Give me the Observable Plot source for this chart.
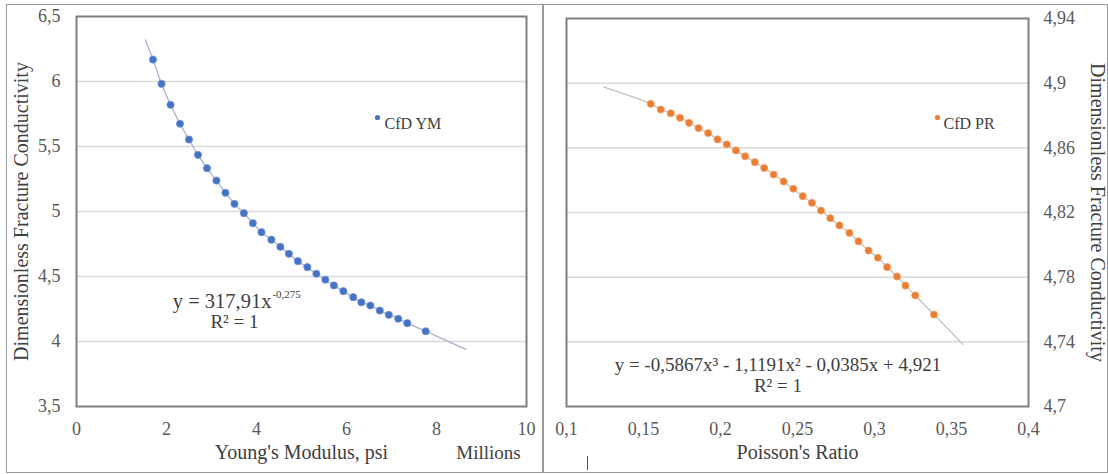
<!DOCTYPE html>
<html>
<head>
<meta charset="utf-8">
<script src="https://cdn.jsdelivr.net/npm/d3@7"></script>
<script src="https://cdn.jsdelivr.net/npm/@observablehq/plot@0.6"></script>
<style>
  html, body { margin: 0; padding: 0; background: #fff; }
  #chart { position: relative; width: 1108px; height: 474px; overflow: hidden; font-family: "Liberation Serif", serif; }
  #chart svg { position: absolute; top: 0; }
  .border { position: absolute; border: 1.5px solid #9a9a9a; box-sizing: border-box; }
</style>
</head>
<body>
<div id="chart"></div>
<script>
// ---------- data ----------
// Left panel: CfD vs Young's Modulus (millions psi)
const ymX = [1.70, 1.89, 2.09, 2.30, 2.50, 2.70, 2.90, 3.11, 3.31, 3.51, 3.72, 3.92, 4.11, 4.33, 4.53,
             4.72, 4.92, 5.13, 5.33, 5.53, 5.72, 5.93, 6.15, 6.33, 6.53, 6.74, 6.94, 7.15, 7.35, 7.76];
const ymY = [6.169, 5.982, 5.821, 5.675, 5.554, 5.436, 5.333, 5.238, 5.144, 5.059, 4.987, 4.910, 4.841, 4.783, 4.728,
             4.675, 4.618, 4.572, 4.521, 4.475, 4.431, 4.387, 4.341, 4.302, 4.277, 4.238, 4.205, 4.175, 4.141, 4.079];
const ymTrendStart = [1.53, 6.32];
const ymTrendEnd = [8.65, 3.94];

// Right panel: CfD vs Poisson's Ratio
const prX = [0.1547, 0.1612, 0.1677, 0.1737, 0.1796, 0.1857, 0.1920, 0.1981, 0.2041, 0.2100, 0.2160, 0.2223, 0.2284, 0.2345, 0.2410,
             0.2473, 0.2534, 0.2594, 0.2653, 0.2713, 0.2772, 0.2837, 0.2896, 0.2961, 0.3022, 0.3082, 0.3146, 0.3201, 0.3265, 0.3386];
const prY = [4.8872, 4.8837, 4.8814, 4.8786, 4.8755, 4.8722, 4.8691, 4.8652, 4.8621, 4.8584, 4.8548, 4.8511, 4.8475, 4.8435, 4.8392,
             4.8347, 4.8301, 4.8260, 4.8212, 4.8165, 4.8120, 4.8074, 4.8022, 4.7965, 4.7920, 4.7862, 4.7804, 4.7748, 4.7687, 4.7569];
const prTrendStart = [0.1243, 4.8975];
const prTrendEnd = [0.3575, 4.7384];

// ticks
const ymXTicks = [0, 2, 4, 6, 8, 10];
const ymYTicks = [3.5, 4, 4.5, 5, 5.5, 6, 6.5];
const prXTicks = [0.1, 0.15, 0.2, 0.25, 0.3, 0.35, 0.4];
const prYTicks = [4.7, 4.74, 4.78, 4.82, 4.86, 4.9, 4.94];

// labels
const yTitle = "Dimensionless Fracture Conductivity";
const ymXTitle = "Young's Modulus, psi";
const ymUnit = "Millions";
const prXTitle = "Poisson's Ratio";
const ymLegend = "CfD YM";
const prLegend = "CfD PR";
const ymEq = "y = 317,91x";
const ymEqExp = "-0,275";
const ymEqPos = [3.51, 4.308];
const ymR2Pos = [3.51, 4.154];
const prEq = "y = -0,5867x³ - 1,1191x² - 0,0385x + 4,921";
const prEqPos = [0.2373, 4.726];
const prR2Pos = [0.2373, 4.7125];
const r2Text = "R² = 1";

// ---------- helpers ----------
const comma = d => String(d).replace(".", ",");
const ymPts = ymX.map((x, i) => ({x, y: ymY[i]}));
const prPts = prX.map((x, i) => ({x, y: prY[i]}));
const ymTrend = [{x: ymTrendStart[0], y: ymTrendStart[1]}, ...ymPts, {x: ymTrendEnd[0], y: ymTrendEnd[1]}];
const prTrend = [{x: prTrendStart[0], y: prTrendStart[1]}, ...prPts, {x: prTrendEnd[0], y: prTrendEnd[1]}];

const BLUE = "#4472C4", ORANGE = "#E97D33";
const TICK = "#595959", TITLE = "#404040";
const FONT = "'Liberation Serif', 'Times New Roman', serif";
const baseStyle = `font-family: ${FONT}; font-size: 18px; color: ${TICK}; background: transparent; overflow: visible;`;

// ---------- left panel ----------
const left = Plot.plot({
  width: 543, height: 474,
  marginLeft: 76, marginRight: 17, marginTop: 16, marginBottom: 68,
  style: baseStyle,
  x: {domain: [0, 10], ticks: ymXTicks, tickFormat: comma, tickSize: 0, tickPadding: 16, label: null},
  y: {domain: [3.5, 6.5], ticks: ymYTicks, tickFormat: comma, tickSize: 0, tickPadding: 16, label: null},
  marks: [
    Plot.gridY(ymYTicks.slice(1, -1), {stroke: "#d9d9d9", strokeOpacity: 1, strokeWidth: 1.5}),
    Plot.frame({stroke: "#7f7f7f", strokeWidth: 2}),
    Plot.line(ymTrend, {x: "x", y: "y", curve: "catmull-rom", stroke: "#a9b0cc", strokeWidth: 1.3}),
    Plot.dot(ymPts, {x: "x", y: "y", r: 3.6, fill: BLUE, stroke: "#6d8fd0", strokeWidth: 0.8}),
    // legend
    Plot.dot([ymLegend], {frameAnchor: "top-right", dx: -149, dy: 101, r: 2.6, fill: BLUE}),
    Plot.text([ymLegend], {frameAnchor: "top-right", dx: -142, dy: 101, textAnchor: "start", fontSize: 16, fill: TITLE}),
    // trend equation
    Plot.text([ymEq], {x: () => ymEqPos[0], y: () => ymEqPos[1], dx: 37, textAnchor: "end", fontSize: 20.5, fill: TITLE}),
    Plot.text([ymEqExp], {x: () => ymEqPos[0], y: () => ymEqPos[1], dx: 38, dy: -7, textAnchor: "start", fontSize: 11, fill: TITLE}),
    Plot.text([r2Text], {x: () => ymR2Pos[0], y: () => ymR2Pos[1], fontSize: 19, fill: TITLE}),
    // axis titles
    Plot.text([ymXTitle], {frameAnchor: "bottom", dy: 52, textAnchor: "middle", fontSize: 20, fill: TITLE}),
    Plot.text([ymUnit], {frameAnchor: "bottom-right", dx: -38, dy: 52, textAnchor: "middle", fontSize: 19, fill: TITLE}),
    Plot.text([yTitle], {frameAnchor: "left", dx: -55, rotate: -90, textAnchor: "middle", fontSize: 20, fill: TITLE})
  ]
});
left.style.left = "0px";

// ---------- right panel ----------
const right = Plot.plot({
  width: 565, height: 474,
  marginLeft: 23, marginRight: 80, marginTop: 18, marginBottom: 68,
  style: baseStyle,
  x: {domain: [0.1, 0.4], ticks: prXTicks, tickFormat: comma, tickSize: 0, tickPadding: 16, label: null},
  y: {domain: [4.7, 4.94], ticks: prYTicks, tickFormat: comma, tickSize: 0, tickPadding: 15, label: null, axis: "right"},
  marks: [
    Plot.gridY(prYTicks.slice(1, -1), {stroke: "#d9d9d9", strokeOpacity: 1, strokeWidth: 1.5}),
    Plot.frame({stroke: "#7f7f7f", strokeWidth: 2}),
    Plot.line(prTrend, {x: "x", y: "y", curve: "catmull-rom", stroke: "#c9c0ba", strokeWidth: 1.3}),
    Plot.dot(prPts, {x: "x", y: "y", r: 3.6, fill: ORANGE, stroke: "#f2a66e", strokeWidth: 0.8}),
    // legend
    Plot.dot([prLegend], {frameAnchor: "top-right", dx: -91, dy: 99, r: 2.6, fill: ORANGE}),
    Plot.text([prLegend], {frameAnchor: "top-right", dx: -85, dy: 99, textAnchor: "start", fontSize: 16, fill: TITLE}),
    // trend equation
    Plot.text([prEq], {x: () => prEqPos[0], y: () => prEqPos[1], fontSize: 19, fill: TITLE}),
    Plot.text([r2Text], {x: () => prR2Pos[0], y: () => prR2Pos[1], fontSize: 19, fill: TITLE}),
    // axis titles
    Plot.text([prXTitle], {frameAnchor: "bottom", dy: 52, textAnchor: "middle", fontSize: 20, fill: TITLE}),
    Plot.text([yTitle], {frameAnchor: "right", dx: 69, rotate: 90, textAnchor: "middle", fontSize: 20, fill: TITLE})
  ]
});
right.style.left = "543px";

const chart = document.getElementById("chart");
chart.appendChild(left);
chart.appendChild(right);

// make sure every text uses the serif face
for (const svg of [left, right]) {
  d3.select(svg).selectAll("text").style("font-family", FONT);
}

// outer panel borders
function box(l, t, w, h) {
  const d = document.createElement("div");
  d.className = "border";
  Object.assign(d.style, {left: l + "px", top: t + "px", width: w + "px", height: h + "px"});
  chart.appendChild(d);
}
box(6, 4, 538, 469);
box(542, 4, 566, 469);
// small stray mark under the right panel's axis
const stray = document.createElement("div");
Object.assign(stray.style, {position: "absolute", left: "587px", top: "456px", width: "1px", height: "14px", background: "#555"});
chart.appendChild(stray);
</script>
</body>
</html>
